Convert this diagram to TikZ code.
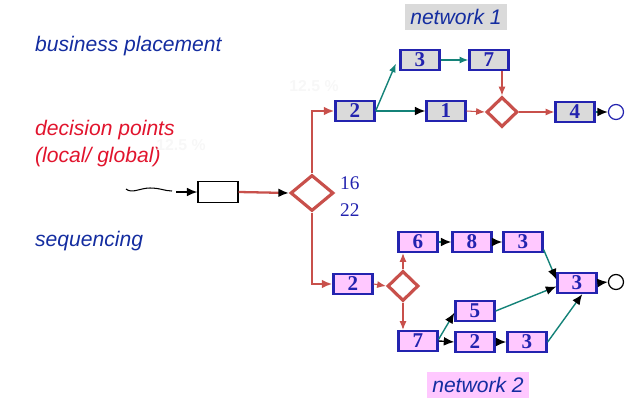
\documentclass[tikz,border=0pt]{standalone}
\usepackage{fontspec}
\setmainfont{Liberation Serif}
\setsansfont{Liberation Sans}
\usetikzlibrary{shapes.geometric,arrows.meta}

\definecolor{netblue}{RGB}{35,35,175}
\definecolor{labelblue}{RGB}{20,45,160}
\definecolor{decred}{RGB}{225,20,45}
\definecolor{linered}{RGB}{200,80,75}
\definecolor{tealline}{RGB}{20,130,120}
\definecolor{boxgray}{RGB}{218,218,218}
\definecolor{boxpink}{RGB}{255,200,255}

\tikzset{
  task/.style={draw=netblue, line width=1.3pt, minimum width=0.78cm, minimum height=0.4cm,
    inner sep=0pt, text=netblue, font=\bfseries\fontsize{12}{12}\selectfont},
  graytask/.style={task, fill=boxgray},
  pinktask/.style={task, fill=boxpink},
  decision/.style={diamond, draw=linered, line width=1.8pt, inner sep=0pt,
    minimum width=0.62cm, minimum height=0.6cm},
  endpoint/.style={circle, draw, line width=0.7pt, minimum size=0.3cm, inner sep=0pt},
  lbl/.style={anchor=west, font=\sffamily\itshape\fontsize{12}{14}\selectfont},
  netlbl/.style={inner xsep=3pt, inner ysep=3pt, text=labelblue,
    font=\sffamily\itshape\fontsize{12}{14}\selectfont},
  redarrow/.style={draw=linered, line width=0.6pt, -{Latex[length=5pt,width=4pt]}},
  stem/.style={draw=linered, line width=1.3pt},
  tealarrow/.style={draw=tealline, line width=0.8pt, -{Latex[length=5pt,width=4pt]}},
  tealblack/.style={draw=tealline, line width=0.8pt, -{Latex[black,length=6pt,width=5pt]}},
  blackarrow/.style={line width=0.8pt, -{Latex[length=6pt,width=5pt]}}
}

\begin{document}
\begin{tikzpicture}[x=0.02cm, y=-0.02cm]
    \useasboundingbox (0,0) rectangle (640,409);

    % left hand labels
    \node[lbl, text=labelblue] (bp) at (29,46) {business placement};
    \node[lbl, text=decred] (dp) at (29,130) {decision points};
    \node[lbl, text=decred] (lg) at (29,157) {(local/ global)};
    \node[lbl, text=labelblue] (sq) at (29,241) {sequencing};

    % faint percentages
    \node[text=gray!6, font=\sffamily\bfseries\small] (pa) at (314,86) {12.5 \%};
    \node[text=gray!6, font=\sffamily\bfseries\small] (pb) at (181,145) {12.5 \%};

    % input and global decision
    \coordinate (w0) at (126,189);
    \coordinate (w1) at (172,191);
    \coordinate (w2) at (176,192);
    \node[draw, line width=0.7pt, minimum width=0.8cm, minimum height=0.42cm] (in) at (218,192) {};
    \node[decision, minimum width=0.86cm, minimum height=0.72cm] (dg) at (312,193) {};
    \node[text=netblue, anchor=west, font=\fontsize{11}{11}\selectfont] (n16) at (334,183) {16};
    \node[text=netblue, anchor=west, font=\fontsize{11}{11}\selectfont] (n22) at (334,210) {22};
    \draw[line width=0.6pt] (w0) .. controls (132,194) and (140,188) .. (150,188)
      .. controls (160,188) and (165,191) .. (w1);
    \draw[blackarrow] (w2) -- (in.west);
    \draw[stem, -{Latex[black,length=6pt,width=5pt]}] (in.east) -- (dg.west);

    % network 1
    \node[netlbl, fill=boxgray] (net1) at (456,17) {network 1};
    \node[graytask] (a2) at (355,111) {2};
    \node[graytask] (a3) at (420,60) {3};
    \node[graytask] (a7) at (489,60) {7};
    \node[graytask] (a1) at (446,111) {1};
    \node[decision] (ad) at (502,112) {};
    \node[graytask] (a4) at (575,112) {4};
    \node[endpoint, draw=netblue] (ae) at (616,112) {};

    \draw[stem, -{Latex[length=6pt,width=5pt]}] (dg.north) |- (a2.west);
    \draw[tealarrow] (a2.east) -- ([xshift=-2pt,yshift=-2pt]a3.west);
    \draw[tealblack] (a2.east) -- (a1.west);
    \draw[tealarrow] (a3.east) -- (a7.west);
    \draw[redarrow] (ad.north |- a7.south) -- (ad.north);
    \draw[redarrow] (a1.east) -- (ad.west);
    \draw[redarrow] (ad.east) -- (a4.west);
    \draw[tealblack] (a4.east) -- (ae.west);

    % network 2
    \node[netlbl, fill=boxpink] (net2) at (478,385) {network 2};
    \node[pinktask] (b2) at (353,284) {2};
    \node[decision] (bd) at (403,286) {};
    \node[pinktask] (b6) at (418,242) {6};
    \node[pinktask] (b8) at (472,242) {8};
    \node[pinktask] (b3) at (523,242) {3};
    \node[pinktask] (b5) at (475,311) {5};
    \node[pinktask] (b7) at (418,341) {7};
    \node[pinktask] (bt) at (475,342) {2};
    \node[pinktask] (bu) at (527,342) {3};
    \node[pinktask] (bz) at (577,283) {3};
    \node[endpoint] (be) at (616,282) {};

    \draw[stem, -{Latex[length=6pt,width=5pt]}] (dg.south) |- (b2.west);
    \draw[redarrow] (b2.east) -- (bd.west);
    \draw[redarrow] (bd.north) -- (bd.north |- b6.south);
    \draw[redarrow] (bd.south) -- (bd.south |- b7.north);
    \draw[tealblack] (b6.east) -- (b8.west);
    \draw[blackarrow] (b8.east) -- (b3.west);
    \draw[tealblack] ([yshift=2pt]b3.south east) -- ([yshift=2pt]bz.west);
    \draw[tealblack] (b5.east) -- ([yshift=-2pt]bz.west);
    \draw[tealblack] (bu.east) -- ([xshift=3pt]bz.south);
    \draw[tealblack] ([yshift=1pt]b7.east) -- ([yshift=-1pt]b5.west);
    \draw[blackarrow] (b7.east) -- (bt.west);
    \draw[blackarrow] (bt.east) -- (bu.west);
    \draw[blackarrow] (bz.east) -- (be.west);
\end{tikzpicture}
\end{document}
